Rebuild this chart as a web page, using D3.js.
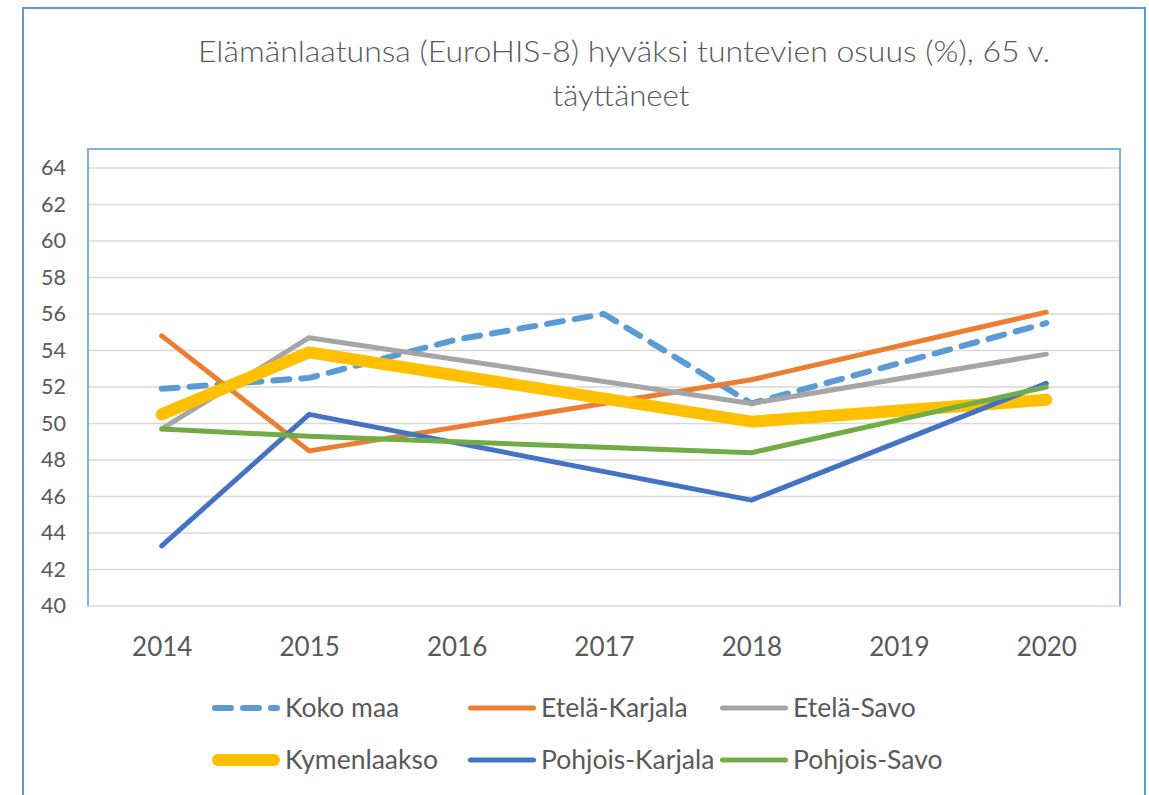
<!DOCTYPE html>
<html>
<head>
<meta charset="utf-8">
<script src="https://cdn.jsdelivr.net/npm/d3@7"></script>
<style>
  html, body { margin: 0; padding: 0; background: #fff; }
  svg { display: block; }
  text { font-family: Lato, "Open Sans", sans-serif; fill: #595959; }
</style>
</head>
<body>
<svg id="chart" width="1149" height="795"></svg>
<script>
const years = ["2014", "2015", "2016", "2017", "2018", "2019", "2020"];
const yTicks = [40, 42, 44, 46, 48, 50, 52, 54, 56, 58, 60, 62, 64];
const titleLines = ["Elämänlaatunsa (EuroHIS-8) hyväksi tuntevien osuus (%), 65 v.", "täyttäneet"];

const seriesNames = ["Koko maa", "Etelä-Karjala", "Etelä-Savo", "Kymenlaakso", "Pohjois-Karjala", "Pohjois-Savo"];
const kokoMaa        = [51.9, 52.5, 54.6, 56.0, 51.1, null, 55.5];
const etelaKarjala   = [54.8, 48.5, null, null, 52.4, null, 56.1];
const etelaSavo      = [49.7, 54.7, null, null, 51.1, null, 53.8];
const kymenlaakso    = [50.5, 53.9, null, null, 50.1, null, 51.3];
const pohjoisKarjala = [43.3, 50.5, null, null, 45.8, null, 52.2];
const pohjoisSavo    = [49.7, 49.3, null, null, 48.4, null, 52.0];
const seriesValues = [kokoMaa, etelaKarjala, etelaSavo, kymenlaakso, pohjoisKarjala, pohjoisSavo];

const colors  = ["#5b9bd5", "#ed7d31", "#a5a5a5", "#ffc000", "#4472c4", "#70ad47"];
const widths  = [6, 5, 5, 12, 5, 5];
const dashes  = ["16,12", null, null, null, null, null];

const svg = d3.select("#chart");
const plot = { left: 88, right: 1120, top: 149, bottom: 606 };

const x = d3.scalePoint().domain(years).range([plot.left, plot.right]).padding(0.5);
const y = d3.scaleLinear().domain([40, 64]).range([606, 168]);

// outer chart frame
svg.append("path")
  .attr("d", "M23,795 L23,8 L1145,8 L1145,795")
  .attr("fill", "none").attr("stroke", "#5b9bd5").attr("stroke-width", 2);

// title
const title = svg.append("g");
title.append("text").attr("x", 624).attr("y", 62).attr("text-anchor", "middle")
  .attr("font-size", 29).attr("font-weight", 300)
  .attr("textLength", 852).attr("lengthAdjust", "spacingAndGlyphs")
  .text(titleLines[0]);
title.append("text").attr("x", 621).attr("y", 106).attr("text-anchor", "middle")
  .attr("font-size", 29).attr("font-weight", 300)
  .attr("textLength", 137).attr("lengthAdjust", "spacingAndGlyphs")
  .text(titleLines[1]);

// gridlines
svg.append("g").selectAll("line").data(yTicks).join("line")
  .attr("x1", plot.left).attr("x2", plot.right)
  .attr("y1", d => y(d)).attr("y2", d => y(d))
  .attr("stroke", "#d9d9d9").attr("stroke-width", 1.5);

// plot frame (left, top, right)
svg.append("path")
  .attr("d", `M${plot.left},${y(40)} L${plot.left},${plot.top} L${plot.right},${plot.top} L${plot.right},${y(40)}`)
  .attr("fill", "none").attr("stroke", "#5b9bd5").attr("stroke-width", 1.5);

// y axis labels
const yAxis = d3.axisLeft(y).tickValues(yTicks).tickSize(0).tickPadding(0);
const ya = svg.append("g").attr("transform", "translate(66,0)").call(yAxis);
ya.select(".domain").remove();
ya.selectAll("text").attr("font-size", 21.5).attr("fill", "#595959").attr("font-family", "Lato");

// x axis labels
const xAxis = d3.axisBottom(x).tickSize(0).tickPadding(0);
const xa = svg.append("g").attr("transform", "translate(0,638)").call(xAxis);
xa.select(".domain").remove();
xa.selectAll("text").attr("font-size", 26).attr("fill", "#595959").attr("font-family", "Lato");

// lines
const line = d3.line()
  .defined(d => d.v != null)
  .x(d => x(d.year)).y(d => y(d.v));

seriesValues.forEach((vals, i) => {
  const pts = years.map((yr, j) => ({ year: yr, v: vals[j] })).filter(d => d.v != null);
  svg.append("path")
    .datum(pts)
    .attr("d", line)
    .attr("fill", "none")
    .attr("stroke", colors[i])
    .attr("stroke-width", widths[i])
    .attr("stroke-linecap", "round")
    .attr("stroke-linejoin", "round")
    .attr("stroke-dasharray", dashes[i]);
});

// legend
const legX = [212, 468, 720];
const legY = [708, 760];
const legend = svg.append("g");
seriesNames.forEach((name, i) => {
  const col = i % 3, row = Math.floor(i / 3);
  const g = legend.append("g").attr("transform", `translate(${legX[col]},${legY[row]})`);
  g.append("line")
    .attr("x1", widths[i] / 2).attr("x2", 68 - widths[i] / 2)
    .attr("y1", 0).attr("y2", 0)
    .attr("stroke", colors[i]).attr("stroke-width", widths[i])
    .attr("stroke-linecap", "round")
    .attr("stroke-dasharray", dashes[i]);
  g.append("text").attr("x", 73).attr("y", 0).attr("dy", "0.35em")
    .attr("font-size", 26.5).text(name);
});
</script>
</body>
</html>
